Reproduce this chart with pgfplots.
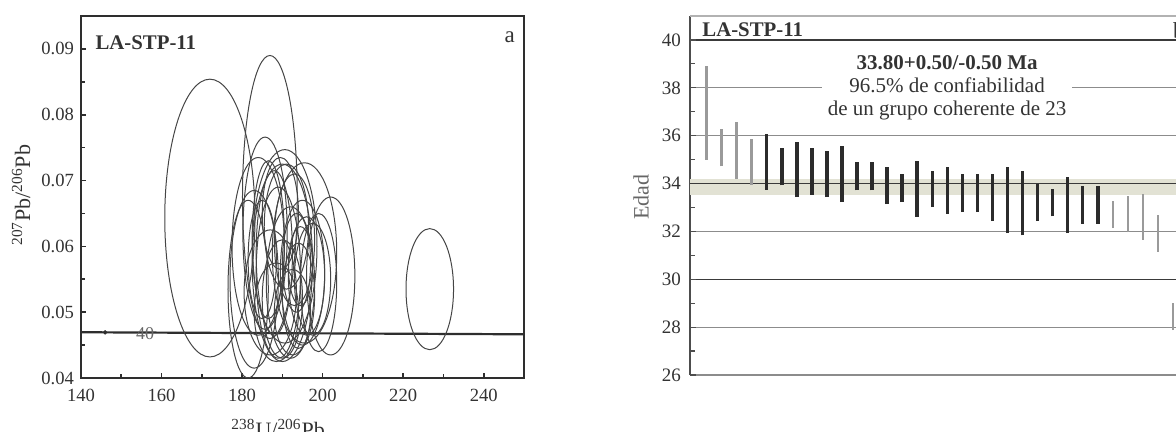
\documentclass[border=0pt]{standalone}
\usepackage{fontspec}
\setmainfont{Liberation Serif}
\usepackage{pgfplots}
\usepackage{pgfplotstable}
\pgfplotsset{compat=1.18}
\definecolor{frame}{HTML}{2E2E2E}
\definecolor{ell}{HTML}{454545}
\definecolor{txt}{HTML}{333333}
\definecolor{band}{HTML}{E2E2D4}
\definecolor{gridgray}{HTML}{8C8C8C}
\definecolor{griddark}{HTML}{3A3A3A}
\definecolor{barblack}{HTML}{2B2B2B}
\definecolor{bargray}{HTML}{9A9A9A}
\pgfdeclareplotmark{blank}{}

% error ellipses: centre and half axes
\pgfplotstableread{
cx cy rx ry
172.0 0.0643 11.2 0.0211
186.9 0.0675 6.8 0.0215
226.6 0.0535 5.9 0.0092
185.7 0.0620 5.5 0.0146
190.6 0.0600 8.0 0.0147
195.5 0.0590 8.0 0.0137
202.0 0.0555 6.0 0.0120
184.0 0.0600 6.5 0.0135
183.0 0.0550 6.0 0.0135
181.5 0.0535 5.0 0.0135
188.0 0.0590 4.5 0.0125
189.0 0.0560 5.5 0.0130
192.0 0.0545 6.0 0.0115
195.0 0.0560 5.5 0.0110
194.5 0.0570 3.0 0.0060
193.5 0.0575 3.5 0.0075
196.0 0.0555 4.5 0.0090
190.0 0.0520 5.0 0.0090
192.5 0.0500 4.5 0.0065
197.5 0.0550 4.5 0.0085
187.0 0.0530 6.5 0.0095
185.0 0.0580 3.5 0.0090
191.0 0.0630 5.5 0.0095
194.0 0.0525 4.0 0.0080
189.5 0.0650 4.5 0.0085
199.0 0.0545 4.5 0.0105
190.0 0.0575 7.5 0.0150
186.5 0.0610 4.0 0.0120
193.0 0.0610 5.0 0.0100
188.5 0.0500 5.5 0.0075
}\ellipses

\pgfplotstableread{
k lo hi
0 35.00 38.92
1 34.72 36.28
2 34.20 36.55
3 33.95 35.86
27 32.14 33.26
28 31.96 33.46
29 31.65 33.57
30 31.14 32.67
31 27.87 29.00
}\graybars

\pgfplotstableread{
k lo hi
4 33.74 36.07
5 33.92 35.47
6 33.43 35.75
7 33.53 35.47
8 33.43 35.35
9 33.22 35.55
10 33.71 34.89
11 33.71 34.89
12 33.14 34.70
13 33.22 34.38
14 32.62 34.96
15 33.01 34.54
16 32.74 34.68
17 32.80 34.38
18 32.80 34.38
19 32.43 34.38
20 31.93 34.68
21 31.83 34.54
22 32.43 33.99
23 32.63 33.78
24 31.93 34.26
25 32.32 33.88
26 32.32 33.88
}\blackbars

\begin{document}
\begin{tikzpicture}
\begin{axis}[
  scale only axis, width=221.5pt, height=181pt,
  at={(40.5pt,27pt)}, anchor=south west,
  xmin=140, xmax=250, ymin=0.04, ymax=0.095,
  xtick={140,160,180,200,220,240},
  ytick={0.04,0.05,0.06,0.07,0.08,0.09},
  minor x tick num=1, minor y tick num=1,
  xtick pos=left, ytick pos=left, tick align=inside,
  major tick length=2.5pt, minor tick length=2pt,
  scaled y ticks=false,
  yticklabel style={/pgf/number format/fixed,/pgf/number format/precision=2,/pgf/number format/fixed zerofill},
  /pgf/number format/assume math mode=true,
  tick label style={font=\fontsize{9.3}{11}\selectfont, text=txt},
  xticklabel style={yshift=-2pt},
  axis line style={frame, line width=0.9pt},
  tick style={frame, line width=0.8pt},
  xlabel={\textsuperscript{238}U/\textsuperscript{206}Pb},
  xlabel style={at={(axis description cs:0.445,-0.163)}, anchor=base, font=\fontsize{11}{13}\selectfont, text=txt},
  ylabel={\textsuperscript{207}Pb/\textsuperscript{206}Pb},
  ylabel style={at={(axis description cs:-0.135,0.505)}, anchor=center, font=\fontsize{11}{13}\selectfont, text=txt},
]
\addplot[only marks, mark=blank, forget plot, scatter,
  visualization depends on={\thisrow{rx} \as \rx},
  visualization depends on={\thisrow{ry} \as \ry},
  scatter/@pre marker code/.code={%
    \pgfscope
    \pgfpathellipse{\pgfpointorigin}%
      {\pgfplotspointaxisdirectionxy{\rx}{0}}%
      {\pgfplotspointaxisdirectionxy{0}{\ry}}%
    \pgfsetstrokecolor{ell}\pgfsetlinewidth{0.5pt}\pgfusepath{stroke}%
    \endpgfscope},
  scatter/@post marker code/.code={}]
  table[x=cx, y=cy] {\ellipses};
% concordia
\addplot[frame, line width=1.1pt] coordinates {(140,0.04695) (250,0.04664)};
\addplot[only marks, mark=*, mark size=0.9pt, frame] coordinates {(146,0.04693)};
\node[font=\fontsize{9}{10}\selectfont, text=black!60] at (axis cs:155.9,0.0468) {40};
\node[anchor=west, inner sep=0, font=\bfseries\fontsize{10.4}{12}\selectfont, text=txt] at (rel axis cs:0.032,0.925) {LA-STP-11};
\node[anchor=base, inner sep=0, font=\fontsize{11.5}{13}\selectfont, text=txt] at (rel axis cs:0.968,0.928) {a};
\end{axis}

\begin{axis}[
  scale only axis, width=243pt, height=179.5pt,
  at={(345pt,28.5pt)}, anchor=south west,
  xmin=-1.1, xmax=31.2, ymin=26, ymax=41,
  axis x line=none, axis y line*=left,
  ytick={26,28,30,32,34,36,38,40}, minor y tick num=1,
  tick align=inside, major tick length=3pt, minor tick length=2.5pt,
  ymajorgrids, grid style={gridgray, line width=0.6pt},
  extra y ticks={30,40}, extra y tick labels={},
  extra y tick style={grid style={griddark, line width=0.7pt}},
  /pgf/number format/assume math mode=true,
  tick label style={font=\fontsize{9.5}{11}\selectfont, text=txt},
  yticklabel style={xshift=-1pt},
  y axis line style={frame!85, line width=0.8pt},
  tick style={frame!85, line width=0.6pt},
  ylabel={Edad},
  ylabel style={at={(axis description cs:-0.1008,0.496)}, anchor=center, font=\fontsize{11}{13}\selectfont, text=black!60},
]
\addplot[draw=none, fill=band, forget plot] coordinates {(-1.1,33.5) (31.2,33.5) (31.2,34.2) (-1.1,34.2)} -- cycle;
\addplot[griddark, line width=0.8pt, forget plot] coordinates {(-1.1,34) (31.2,34)};
\addplot[black!30, line width=0.8pt, forget plot] coordinates {(-1.1,41) (31.2,41)};
\addplot[draw=none, mark=none, forget plot,
  error bars/.cd, y dir=plus, y explicit, error mark=none,
  error bar style={draw=bargray, solid, line width=1.25pt}]
  table[x=k, y=lo, y error expr=\thisrow{hi}-\thisrow{lo}] {\graybars};
\addplot[draw=none, mark=none, forget plot,
  error bars/.cd, y dir=plus, y explicit, error mark=none,
  error bar style={draw=barblack, solid, line width=1.75pt}]
  table[x=k, y=lo, y error expr=\thisrow{hi}-\thisrow{lo}] {\blackbars};
\node[anchor=base west, inner sep=0, font=\bfseries\fontsize{10.4}{12}\selectfont, text=txt] at (rel axis cs:0.0247,0.9415) {LA-STP-11};
\node[fill=white, align=center, anchor=north, inner xsep=3pt, inner ysep=1.5pt, font=\fontsize{10.5}{11.6}\selectfont, text=txt] at (rel axis cs:0.529,0.90) {\textbf{33.80+0.50/-0.50 Ma}\\96.5\% de confiabilidad\\de un grupo coherente de 23};
\end{axis}
\node[anchor=base west, inner sep=0, font=\fontsize{11.5}{13}\selectfont, text=txt] at (586.4pt,196.5pt) {b};
\pgfresetboundingbox
\useasboundingbox (0,0) rectangle (588pt,216pt);
\end{tikzpicture}
\end{document}
